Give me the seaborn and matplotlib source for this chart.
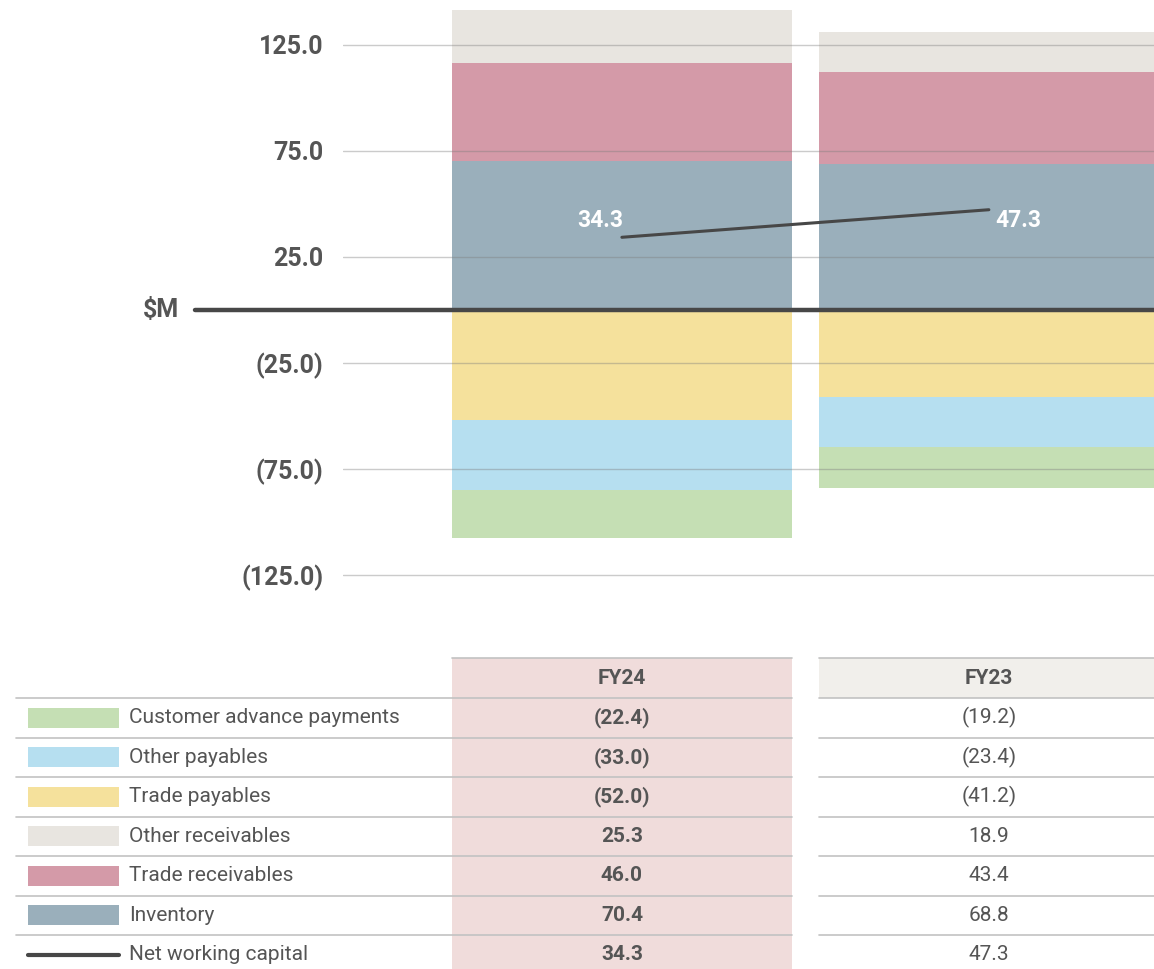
import numpy as np
import pandas as pd
import seaborn as sns
import matplotlib.pyplot as plt
from matplotlib.patches import Rectangle

years = ['FY24', 'FY23']
inventory = [70.4, 68.8]
trade_receivables = [46.0, 43.4]
other_receivables = [25.3, 18.9]
trade_payables = [-52.0, -41.2]
other_payables = [-33.0, -23.4]
customer_advance = [-22.4, -19.2]
net_working_capital = [34.3, 47.3]

y_ticks = [125, 75, 25, -25, -75, -125]

colors = {
    'Customer advance payments': '#c5dfb4',
    'Other payables': '#b6dff0',
    'Trade payables': '#f5e19c',
    'Other receivables': '#e8e5e0',
    'Trade receivables': '#d49aa8',
    'Inventory': '#9aafbb',
}
line_col = '#474747'
text_col = '#555555'

sns.set_theme(style='white')
plt.rcParams['font.family'] = ['Roboto', 'DejaVu Sans']

W, H = 1154, 969
fig = plt.figure(figsize=(W / 100, H / 100), dpi=100)

# chart axes geometry (pixels)
ax_l, ax_r, ax_t, ax_b = 343, 1154, 0, 620
ax = fig.add_axes([ax_l / W, 1 - ax_b / H, (ax_r - ax_l) / W, (ax_b - ax_t) / H])

BAR_W = 0.926
XLIM = (-0.76, 1.45)
px_per_unit = (ax_r - ax_l) / (XLIM[1] - XLIM[0])

# stacked bars: draw cumulative totals, biggest first
pos = pd.DataFrame({'Inventory': inventory, 'Trade receivables': trade_receivables,
                    'Other receivables': other_receivables}, index=years)
neg = pd.DataFrame({'Trade payables': trade_payables, 'Other payables': other_payables,
                    'Customer advance payments': customer_advance}, index=years)

for frame in (pos, neg):
    cum = frame.cumsum(axis=1)
    for name in reversed(cum.columns):
        sns.barplot(x=list(cum.index), y=cum[name].values, color=colors[name],
                    width=BAR_W, saturation=1, linewidth=0, errorbar=None,
                    ax=ax, zorder=1)

ax.set_xlim(*XLIM)
ax.set_ylim((ax_b - 310) / -2.12, 310 / 2.12)
ax.set_xticks([])
ax.set_xlabel('')
ax.set_yticks(y_ticks)
ax.set_yticklabels([f'({abs(v):.1f})' if v < 0 else f'{v:.1f}' for v in y_ticks],
                   fontsize=18, fontweight='bold', color=text_col)
ax.tick_params(axis='y', length=0, pad=14)
ax.grid(axis='y', color='#7d7d7d', alpha=0.4, lw=1)
ax.set_axisbelow(False)
for s in ax.spines.values():
    s.set_visible(False)

# zero line running out to the $M label
ax.axhline(0, xmin=-(ax_l - 195) / (ax_r - ax_l), xmax=1, color=line_col, lw=3.2,
           clip_on=False, zorder=4)
ax.text(-(ax_l - 179) / (ax_r - ax_l), 0, '$M', transform=ax.get_yaxis_transform(),
        ha='right', va='center', fontsize=18, fontweight='bold', color=text_col)

# net working capital line
sns.lineplot(x=[0, 1], y=net_working_capital, ax=ax, color=line_col, lw=2.2, zorder=5)
label_dx = [-0.06, 0.08]
for i, v in enumerate(net_working_capital):
    ax.text(i + label_dx[i], 42, f'{v:.1f}', ha='center', va='center',
            fontsize=16.5, fontweight='bold', color='white', zorder=6)

# ---- table below the chart ----
tax = fig.add_axes([0, 0, 1, (H - 640) / H])
tax.set_xlim(0, W)
tax.set_ylim(H, 640)
tax.axis('off')

def col_px(x):
    return ax_l + (x - XLIM[0]) * px_per_unit

c0l, c0r = col_px(-BAR_W / 2), col_px(BAR_W / 2)
c1l, c1r = col_px(1 - BAR_W / 2), col_px(1 + BAR_W / 2)
c0c, c1c = col_px(0), col_px(1)

head_top, head_bot, row_h = 658, 698, 39.5
grid_c = '#c2c2c2'

tax.add_patch(Rectangle((c0l, head_top), c0r - c0l, H - head_top, color='#f0dcdb', lw=0))
tax.add_patch(Rectangle((c1l, head_top), W - c1l, head_bot - head_top, color='#f1efeb', lw=0))
tax.plot([c0l, c0r], [head_top] * 2, color=grid_c, lw=1.2)
tax.plot([c1l, W], [head_top] * 2, color=grid_c, lw=1.2)
tax.text(c0c, (head_top + head_bot) / 2, years[0], ha='center', va='center',
         fontsize=15, fontweight='bold', color=text_col)
tax.text(c1c, (head_top + head_bot) / 2, years[1], ha='center', va='center',
         fontsize=15, fontweight='bold', color=text_col)

rows = [
    ('Customer advance payments', customer_advance),
    ('Other payables', other_payables),
    ('Trade payables', trade_payables),
    ('Other receivables', other_receivables),
    ('Trade receivables', trade_receivables),
    ('Inventory', inventory),
    ('Net working capital', net_working_capital),
]

def fmt(v):
    return f'({abs(v):.1f})' if v < 0 else f'{v:.1f}'

for i, (name, vals) in enumerate(rows):
    top = head_bot + row_h * i
    yc = top + row_h / 2
    tax.plot([16, c0r], [top] * 2, color=grid_c, lw=1.2)
    tax.plot([c1l, W], [top] * 2, color=grid_c, lw=1.2)
    if name in colors:
        tax.add_patch(Rectangle((28, yc - 10), 91, 20, color=colors[name], lw=0))
    else:
        tax.plot([28, 119], [yc, yc], color=line_col, lw=3)
    tax.text(129, yc, name, ha='left', va='center', fontsize=15, color=text_col)
    tax.text(c0c, yc, fmt(vals[0]), ha='center', va='center', fontsize=15,
             fontweight='bold', color=text_col)
    tax.text(c1c, yc, fmt(vals[1]), ha='center', va='center', fontsize=15,
             color=text_col)

fig.savefig('out.png', dpi=100)
